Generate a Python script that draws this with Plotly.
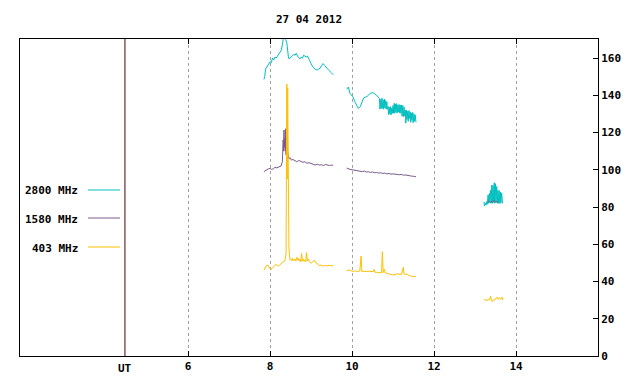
import plotly.graph_objects as go

# ---------------- data (hours UT, flux) ----------------
t2800_a = [7.85, 7.87, 7.89, 7.92, 7.95, 7.98, 8.00, 8.03, 8.06, 8.09, 8.12, 8.15, 8.18, 8.21,
           8.24, 8.27, 8.30, 8.32, 8.35, 8.38, 8.41, 8.43, 8.45, 8.47, 8.49, 8.52, 8.55, 8.58,
           8.61, 8.64, 8.67, 8.70, 8.73, 8.76, 8.79, 8.82, 8.85, 8.88, 8.91, 8.94, 8.97, 9.00,
           9.05, 9.10, 9.15, 9.18, 9.22, 9.26, 9.29, 9.33, 9.36, 9.39, 9.43, 9.46, 9.50, 9.54]
v2800_a = [148.5, 150, 154, 155, 156.5, 157, 158, 157.5, 160, 159, 160.5, 160, 161, 162,
           163, 164, 167, 170, 171, 170, 168, 162, 160, 159.5, 160, 160.5, 161, 162,
           161.5, 162.5, 161, 160, 159.5, 160.5, 160, 161.5, 161, 160.5, 161, 160, 158.5, 157,
           155, 154, 153.5, 154, 154.5, 156, 157, 156, 155, 154.5, 153.5, 153, 152, 151]

t2800_b = [9.87, 9.91, 9.95, 10.02, 10.07, 10.11, 10.15, 10.20, 10.24, 10.28, 10.32, 10.36,
           10.40, 10.44, 10.48, 10.52, 10.56, 10.60, 10.64,
           10.67, 10.68, 10.70, 10.71, 10.73, 10.74, 10.76, 10.77, 10.79, 10.80, 10.82, 10.83,
           10.85, 10.86, 10.88, 10.89, 10.91, 10.92, 10.94, 10.95, 10.97, 10.98, 11.00, 11.01,
           11.03, 11.04, 11.06, 11.07, 11.09, 11.10, 11.12, 11.13, 11.15, 11.16, 11.18, 11.19,
           11.21, 11.22, 11.24, 11.25, 11.27, 11.28, 11.30, 11.31, 11.33, 11.34, 11.36, 11.37,
           11.39, 11.40, 11.42, 11.43, 11.45, 11.46, 11.48, 11.49, 11.51, 11.52, 11.54, 11.56]
v2800_b = [143.2, 144.4, 141, 139.2, 136.5, 134.8, 133, 133.8, 136.5, 138.5, 139, 139.2,
           140, 141, 141.2, 141.4, 140.5, 140, 139,
           138.2, 132.6, 137.8, 132.8, 138.4, 133, 137.5, 132.5, 138, 133.2, 137.2, 132.6,
           136.5, 132.4, 134, 129.6, 133.5, 130, 133.9, 129.4, 133.2, 130.2, 134.5, 130.5,
           135.7, 130.3, 135.2, 130.8, 135.5, 130.4, 134.8, 131, 135, 130.5, 134.6, 130.3,
           134.8, 128.8, 134.5, 128.5, 133.5, 129, 132, 125, 132, 127, 131.5, 126,
           131.8, 127.5, 131, 125.5, 130.5, 126.5, 130.8, 125.2, 130, 126, 129.5, 125.5]

t2800_c = [13.22, 13.23, 13.25, 13.27, 13.29, 13.30, 13.32, 13.33, 13.35, 13.36, 13.38, 13.39,
           13.41, 13.42, 13.44, 13.45, 13.47, 13.48, 13.50, 13.51, 13.53, 13.54, 13.56, 13.57,
           13.59, 13.60, 13.62, 13.63, 13.65, 13.67]
v2800_c = [82.8, 80.5, 82, 81, 83, 81.5, 86.5, 82, 87.3, 82.5, 89, 82, 91.8, 82, 91.5, 82.5,
           93, 82, 92.5, 82.5, 91, 82, 89, 82, 88.8, 82, 88, 82, 87.5, 82]

t1580_a = [7.85, 7.88, 7.92, 7.96, 8.00, 8.04, 8.08, 8.12, 8.16, 8.20, 8.24, 8.27, 8.30,
           8.32, 8.33, 8.34, 8.35, 8.36, 8.37, 8.38, 8.39, 8.41, 8.42, 8.43, 8.44, 8.46, 8.49,
           8.52, 8.56, 8.60, 8.65, 8.70, 8.75, 8.80, 8.85, 8.90, 8.95, 9.00, 9.05, 9.10, 9.15,
           9.20, 9.25, 9.30, 9.35, 9.40, 9.45, 9.50, 9.54]
v1580_a = [99, 99.5, 100.2, 100.5, 100.7, 100.2, 100.5, 101.3, 101, 101.3, 101.5, 102, 104.3,
           116, 110, 121.3, 112, 117, 110, 122, 108, 118, 126.7, 110, 108, 106, 106.5,
           105.2, 105.5, 104.8, 104.3, 105, 104.5, 104, 104.3, 103.5, 103.8, 103.4, 102.8, 102.5, 103,
           102.5, 102.7, 102.3, 102.8, 102.5, 102.3, 102.5, 102.3]

t1580_b = [9.87, 9.90, 9.95, 10.00, 10.05, 10.10, 10.15, 10.20, 10.25, 10.30, 10.35, 10.40,
           10.45, 10.50, 10.55, 10.60, 10.65, 10.70, 10.75, 10.80, 10.85, 10.90, 10.95, 11.00,
           11.05, 11.10, 11.15, 11.20, 11.25, 11.30, 11.35, 11.40, 11.45, 11.50, 11.56]
v1580_b = [100.9, 100.5, 100.2, 100, 99.8, 99.5, 99.6, 99.2, 99, 99.3, 98.8, 98.9,
           98.6, 98.8, 98.4, 98.5, 98.2, 98.4, 98, 98.2, 97.8, 98, 97.6, 97.8,
           97.5, 97.6, 97.3, 97.5, 97.1, 97.2, 96.9, 97, 96.6, 96.5, 96.2]

t1580_c = [13.32, 13.35, 13.38, 13.41, 13.44, 13.47, 13.50, 13.53, 13.57]
v1580_c = [82.5, 83, 82.2, 83.2, 82.8, 83.5, 82.6, 83, 82.4]

t403_a = [7.85, 7.87, 7.90, 7.93, 7.96, 7.99, 8.02, 8.05, 8.08, 8.11, 8.14, 8.17, 8.20, 8.23,
          8.26, 8.29, 8.32, 8.36, 8.39, 8.41, 8.42, 8.43, 8.44, 8.45, 8.46, 8.47, 8.49, 8.51,
          8.53, 8.55, 8.57, 8.59, 8.61, 8.63, 8.65, 8.67, 8.69, 8.71, 8.73, 8.75, 8.77, 8.79,
          8.81, 8.83, 8.85, 8.87, 8.89, 8.91, 8.93, 8.96, 9.00, 9.04, 9.08, 9.12, 9.16, 9.20,
          9.25, 9.30, 9.35, 9.40, 9.45, 9.50, 9.54]
v403_a = [46, 47, 48.3, 48.9, 48, 47, 46.5, 47, 47.5, 48.5, 49.2, 48.8, 48.3, 48.8,
          49.5, 49.8, 50.6, 51, 55, 146, 95, 144, 100, 60, 58.7, 55, 51.5, 52,
          51.2, 52.5, 51, 51.8, 52, 51, 53, 51.5, 52.5, 51, 52, 50.5, 55, 51,
          52, 50.8, 51.5, 50.5, 55.5, 51, 52, 50.6, 49.8, 50.5, 51.5, 50, 49.5, 48.5,
          48.8, 48.3, 48.6, 48.4, 48.7, 48.5, 48.4]

t403_b = [9.87, 9.91, 9.95, 9.99, 10.03, 10.07, 10.11, 10.15, 10.19, 10.22, 10.24, 10.28,
          10.32, 10.36, 10.40, 10.44, 10.48, 10.52, 10.54, 10.56, 10.60, 10.64, 10.68, 10.72,
          10.74, 10.76, 10.79, 10.81, 10.85, 10.89, 10.93, 10.97, 11.01, 11.05, 11.09, 11.11,
          11.13, 11.17, 11.21, 11.25, 11.27, 11.30, 11.33, 11.37, 11.41, 11.45, 11.50, 11.56]
v403_b = [45.8, 46, 46.2, 45.6, 45.3, 45.8, 45.3, 45.5, 45.6, 53.7, 45.3, 45.5,
          45.3, 45.3, 45.5, 45.3, 45.5, 45.3, 46.5, 45, 44.8, 44.7, 44.8, 44.7,
          56, 44.8, 46.5, 44.6, 44.4, 44, 43.8, 43.6, 43.5, 43.6, 43.8, 44.5,
          43.8, 44, 43.8, 47.6, 44, 43.8, 44, 43.5, 43, 42.8, 42.6, 42.6]

t403_c = [13.22, 13.24, 13.26, 13.28, 13.30, 13.32, 13.34, 13.36, 13.38, 13.39, 13.40, 13.42,
          13.44, 13.46, 13.48, 13.50, 13.52, 13.54, 13.56, 13.58, 13.60, 13.62, 13.64, 13.66,
          13.68]
v403_c = [30, 30.5, 29.8, 30.2, 29.7, 30.4, 30, 30.4, 32.2, 30, 29.6, 29.2,
          29.5, 30.3, 30, 30.8, 31, 31.5, 30.5, 31, 31.2, 30.4, 30.8, 31.6, 30]

x_ticks = [6, 8, 10, 12, 14]
y_ticks = [0, 20, 40, 60, 80, 100, 120, 140, 160]
ut_position = 4.46
title_text = "27 04 2012"
series_names = ["2800 MHz", "1580 MHz", "403 MHz"]
series_colors = ["#00bfbf", "#7b5b8b", "#ffc000"]


def join(*parts):
    out = []
    for i, p in enumerate(parts):
        if i:
            out.append(None)
        out.extend(p)
    return out


series = [
    (join(t2800_a, t2800_b, t2800_c), join(v2800_a, v2800_b, v2800_c)),
    (join(t1580_a, t1580_b, t1580_c), join(v1580_a, v1580_b, v1580_c)),
    (join(t403_a, t403_b, t403_c), join(v403_a, v403_b, v403_c)),
]

FONT = "DejaVu Sans Mono"
# page body has an 8px margin, so the figure is sized to fill the rest of the window
W, H = 632, 376
fig = go.Figure()
for (t, v), name, col in zip(series, series_names, series_colors):
    fig.add_trace(go.Scatter(x=t, y=v, mode="lines", name=name,
                             line=dict(color=col, width=1), connectgaps=False,
                             showlegend=False))

# UT marker line
fig.add_shape(type="line", xref="x", yref="paper", x0=ut_position, x1=ut_position,
              y0=0, y1=1, line=dict(color="#4a0000", width=1))
fig.add_annotation(x=ut_position, xref="x", y=0, yref="paper", yanchor="top", yshift=-4,
                   text="UT", showarrow=False,
                   font=dict(family=FONT, size=11, color="black", weight="bold"))

# legend drawn at the left
leg_y = [0.5237, 0.4353, 0.3438]
for name, col, ly in zip(series_names, series_colors, leg_y):
    fig.add_annotation(x=0.1038, xref="paper", y=ly, yref="paper", xanchor="right",
                       yanchor="middle", yshift=-1, text=name, showarrow=False,
                       font=dict(family=FONT, size=11, color="black", weight="bold"))
    fig.add_shape(type="line", xref="paper", yref="paper", x0=0.1176, x1=0.1730,
                  y0=ly, y1=ly, line=dict(color=col, width=1))

fig.update_layout(
    width=W, height=H,
    margin=dict(l=12, r=42, t=31, b=28, autoexpand=False),
    paper_bgcolor="white", plot_bgcolor="white",
    title=dict(text=title_text, x=0.5, xref="paper", y=1 - 11 / H, yref="container",
               yanchor="middle", xanchor="center",
               font=dict(family=FONT, size=11, color="black", weight="bold")),
    showlegend=False,
)
fig.update_xaxes(range=[1.9, 16.0], tickvals=x_ticks, ticktext=[str(v) for v in x_ticks],
                 ticks="inside", ticklen=5, tickcolor="black", mirror="ticks",
                 showline=True, linecolor="black", linewidth=1, automargin=False,
                 showgrid=True, gridcolor="#a0a0a0", griddash="dot", gridwidth=1,
                 zeroline=False,
                 tickfont=dict(family=FONT, size=11, color="black", weight="bold"))
fig.update_yaxes(range=[0, 170.2], side="right", tickvals=y_ticks,
                 ticks="inside", ticklen=5, tickcolor="black", mirror=True,
                 showline=True, linecolor="black", linewidth=1, automargin=False,
                 showgrid=False, zeroline=False,
                 tickfont=dict(family=FONT, size=11, color="black", weight="bold"))

fig.write_html("out.html")
